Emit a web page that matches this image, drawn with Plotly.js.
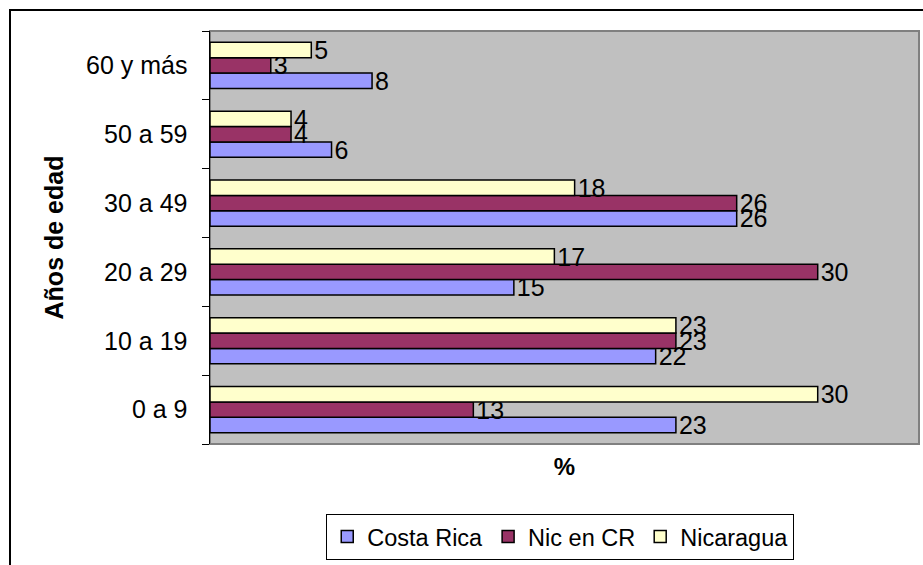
<!DOCTYPE html>
<html>
<head>
<meta charset="utf-8">
<script src="https://cdn.plot.ly/plotly-3.0.1.min.js"></script>
<style>
  html, body { margin: 0; padding: 0; background: #ffffff; overflow: hidden; }
  #wrap { position: relative; width: 923px; height: 565px; }
  #chart { position: absolute; left: 0; top: 0; width: 923px; height: 565px; }
  #frame { position: absolute; left: 9px; top: 9px; width: 1000px; height: 1000px;
           border: 2px solid #000; pointer-events: none; }
</style>
</head>
<body>
<div id="wrap">
  <div id="chart"></div>
  <div id="frame"></div>
</div>
<script>
const categories = ["0 a 9", "10 a 19", "20 a 29", "30 a 49", "50 a 59", "60 y más"];
const costaRica = [23, 22, 15, 26, 6, 8];
const nicEnCR   = [13, 23, 30, 26, 4, 3];
const nicaragua = [30, 23, 17, 18, 4, 5];
const seriesNames = ["Costa Rica", "Nic en CR", "Nicaragua"];
const seriesColors = ["#9999FF", "#993366", "#FFFFCC"];

const FONT = "Liberation Sans, Arial, sans-serif";
const seriesValues = [costaRica, nicEnCR, nicaragua];

const traces = seriesValues.map((vals, i) => ({
  type: "bar",
  orientation: "h",
  name: seriesNames[i],
  y: categories,
  x: vals,
  marker: { color: seriesColors[i], line: { color: "#000000", width: 1.5 } },
  text: vals.map(String),
  textposition: "outside",
  constraintext: "none",
  cliponaxis: false,
  textfont: { family: FONT, size: 25, color: "#000000" },
  hoverinfo: "skip"
}));

const layout = {
  width: 923,
  height: 565,
  margin: { l: 210, r: 4, t: 31, b: 121 },
  paper_bgcolor: "#ffffff",
  plot_bgcolor: "#C0C0C0",
  barmode: "group",
  bargap: 0.33,
  bargroupgap: 0,
  font: { family: FONT, size: 24, color: "#000000" },
  showlegend: true,
  legend: {
    orientation: "h",
    x: 0.494, xanchor: "center",
    y: -0.169, yanchor: "top",
    bordercolor: "#000000", borderwidth: 1,
    bgcolor: "#ffffff",
    font: { family: FONT, size: 23.5, color: "#000000" },
    traceorder: "normal",
    itemwidth: 30
  },
  xaxis: {
    range: [0, 35],
    showgrid: false,
    zeroline: false,
    showticklabels: false,
    ticks: "",
    showline: false,
    fixedrange: true,
    title: { text: "%", font: { family: FONT, size: 24, color: "#000000", weight: "bold" }, standoff: 14 }
  },
  yaxis: {
    type: "category",
    categoryorder: "array",
    categoryarray: categories,
    showgrid: false,
    zeroline: false,
    showline: true,
    linecolor: "#000000",
    linewidth: 1.5,
    ticks: "outside",
    tickson: "boundaries",
    ticklen: 7,
    tickwidth: 1,
    tickcolor: "#000000",
    ticklabelstandoff: 16,
    tickfont: { family: FONT, size: 25, color: "#000000" },
    fixedrange: true,
    title: { text: "Años de edad", font: { family: FONT, size: 25, color: "#000000", weight: "bold" }, standoff: 15 }
  },
  shapes: [{
    type: "rect", xref: "paper", yref: "paper",
    x0: 0, x1: 1, y0: 0, y1: 1,
    line: { color: "#808080", width: 2 },
    fillcolor: "rgba(0,0,0,0)",
    layer: "below"
  }]
};

Plotly.newPlot("chart", traces, layout, { displayModeBar: false, staticPlot: true });
</script>
</body>
</html>
